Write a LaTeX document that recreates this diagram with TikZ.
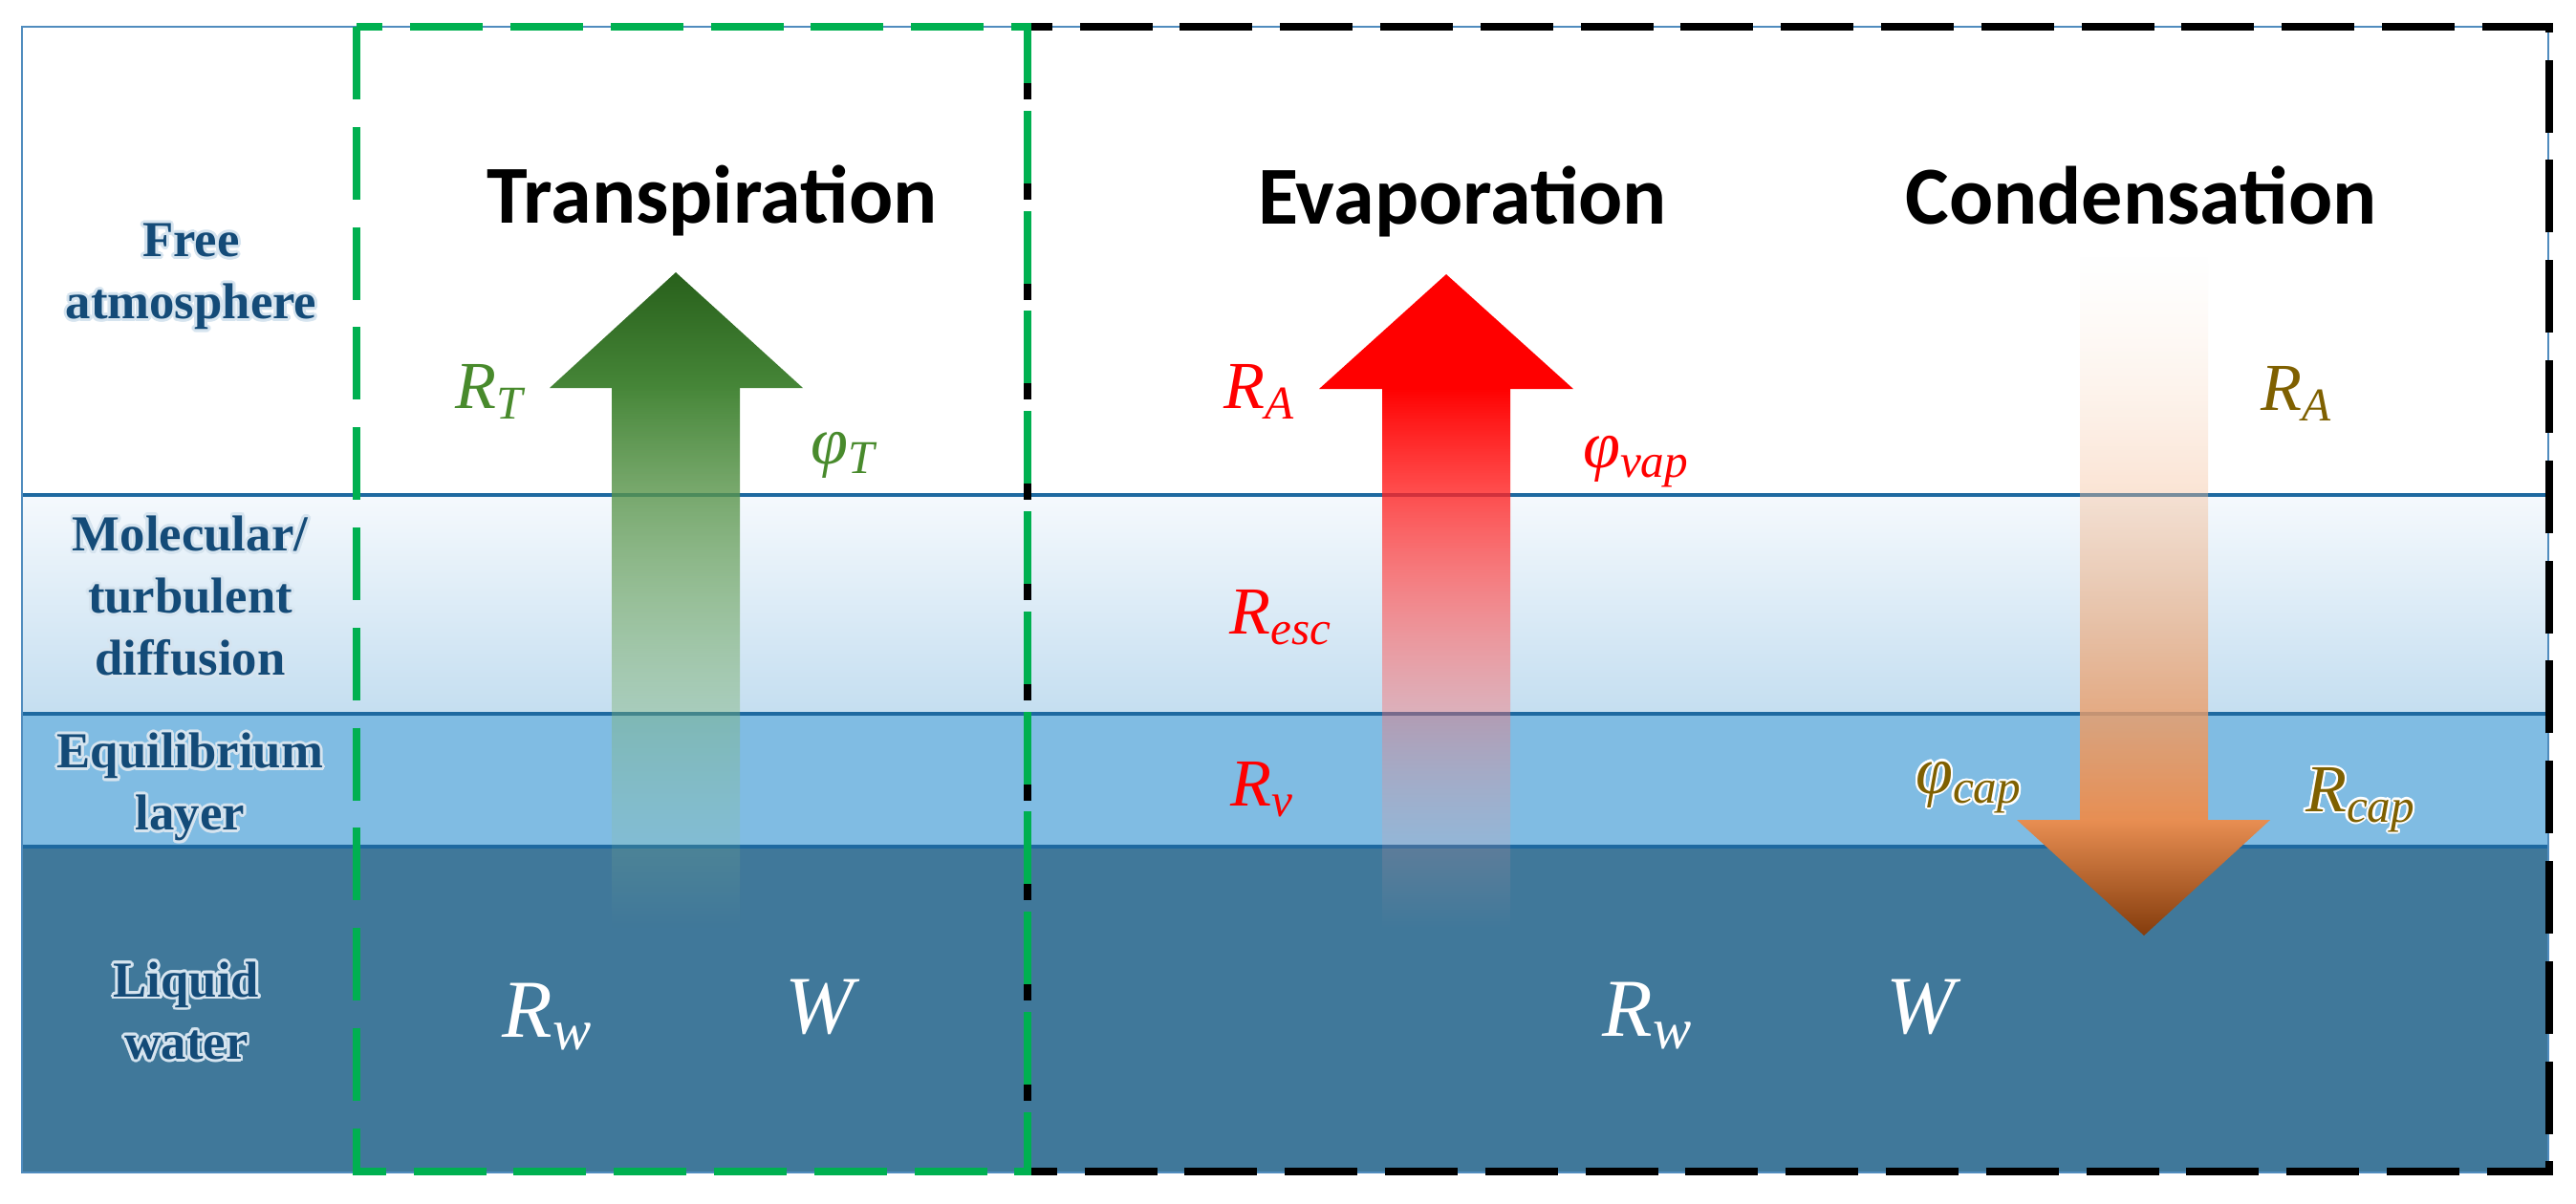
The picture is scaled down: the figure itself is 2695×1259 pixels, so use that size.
\RequirePackage{fix-cm}
\documentclass[tikz,border=0pt]{standalone}
\usepackage{fontspec}
\setmainfont{Liberation Serif}
\newfontfamily\titlefont{Carlito}
\usetikzlibrary{fadings}
\IfFileExists{contour.sty}{\usepackage{contour}\def\hasglow{1}}{}
\ifdefined\hasglow
  \newcommand\glowtext[3]{{\contourlength{#1}\contour{#2}{#3}}}
\else
  \newcommand\glowtext[3]{#3}
\fi
\newcommand\flux[2]{\textit{#1}\textsubscript{\textit{#2}}}
\newcommand\sideglow[1]{\glowtext{0.8pt}{glowblue}{#1}}
\definecolor{labelnavy}{RGB}{20,75,120}
\definecolor{glowblue}{RGB}{214,228,239}
\definecolor{borderblue}{RGB}{80,140,190}
\definecolor{layerline}{RGB}{30,105,160}
\definecolor{moltop}{RGB}{245,249,253}
\definecolor{molbot}{RGB}{196,222,240}
\definecolor{eqfill}{RGB}{128,188,227}
\definecolor{liqfill}{RGB}{64,120,154}
\definecolor{boxgreen}{RGB}{0,176,80}
\definecolor{labgreen}{RGB}{72,138,44}
\definecolor{labred}{RGB}{255,0,0}
\definecolor{labbrown}{RGB}{127,96,0}
\definecolor{ghead1}{RGB}{40,96,27}
\definecolor{ghead2}{RGB}{70,134,56}
\definecolor{gmid}{RGB}{110,164,94}
\definecolor{gbot}{RGB}{160,205,145}
\definecolor{rmid}{RGB}{255,100,100}
\definecolor{rbot}{RGB}{255,180,180}
\definecolor{otop}{RGB}{253,226,204}
\definecolor{omid}{RGB}{251,184,136}
\definecolor{ohead1}{RGB}{232,142,82}
\definecolor{ohead2}{RGB}{132,60,12}
\tikzfading[name=fadelow, top color=transparent!0, middle color=transparent!10, bottom color=transparent!100]
\tikzfading[name=fadehigh, top color=transparent!100, middle color=transparent!0, bottom color=transparent!0]
\begin{document}
\begin{tikzpicture}[x=0.01cm,y=-0.01cm,
  layerlinestyle/.style={draw=layerline, line width=1.2pt},
  boxdash/.style={line width=2.5pt, dash pattern=on 21.6pt off 8.2pt},
  sidelabel/.style={font=\fontsize{15}{18.5}\selectfont\bfseries, text=labelnavy, align=center, inner sep=0pt},
  titlelabel/.style={font=\titlefont\bfseries\fontsize{24.5}{30}\selectfont, text=black, inner sep=0pt, anchor=base},
  fluxlabel/.style={font=\fontsize{20}{24}\selectfont, inner sep=0pt},
  waterlabel/.style={font=\fontsize{24.5}{28}\selectfont, text=white, inner sep=0pt},
]
\useasboundingbox (0,0) rectangle (2695,1259);
\fill[white] (0,0) rectangle (2695,1259);
% layers
\shade[top color=moltop, bottom color=molbot] (23,518) rectangle (2666,747);
\fill[eqfill] (23,747) rectangle (2666,886);
\fill[liqfill] (23,886) rectangle (2666,1227);
\draw[layerlinestyle] (23,518) -- (2666,518);
\draw[layerlinestyle] (23,747) -- (2666,747);
\draw[layerlinestyle] (23,886) -- (2666,886);
\draw[borderblue, line width=0.7pt] (23,28) rectangle (2666,1227);
% transpiration arrow
\shade[top color=ghead2, middle color=gmid, bottom color=gbot, path fading=fadelow] (640,404) rectangle (774,970);
\shade[top color=ghead1, bottom color=ghead2] (575,406) -- (707,285) -- (840,406) -- cycle;
% evaporation arrow
\shade[top color=labred, middle color=rmid, bottom color=rbot, path fading=fadelow] (1446,405) rectangle (1580,972);
\fill[labred] (1380,407) -- (1513,287) -- (1646,407) -- cycle;
% condensation arrow
\shade[top color=otop, middle color=omid, bottom color=ohead1, path fading=fadehigh] (2176,268) rectangle (2310,860);
\shade[top color=ohead1, bottom color=ohead2] (2110,858) -- (2375,858) -- (2243,979) -- cycle;
% dashed boxes
\draw[boxdash, black] (1075,28) rectangle (2667,1226);
\draw[boxdash, boxgreen] (373,28) rectangle (1075,1226);
% side labels
\node[sidelabel] (freeatm) at (200,291) {\sideglow{Free}\\\sideglow{atmosphere}};
\node[sidelabel] (moldiff) at (199,625) {\sideglow{Molecular/}\\\sideglow{turbulent}\\\sideglow{diffusion}};
\node[sidelabel] (eqlayer) at (199,825) {\sideglow{Equilibrium}\\\sideglow{layer}};
\node[sidelabel] (liqwater) at (195,1059) {\sideglow{Liquid}\\\sideglow{water}};
% titles
\node[titlelabel] (ttrans) at (745,233) {Transpiration};
\node[titlelabel] (tevap) at (1530,234) {Evaporation};
\node[titlelabel] (tcond) at (2240,234) {Condensation};
% flux labels
\node[fluxlabel, text=labgreen] (rt) at (514,410) {\flux{R}{T}};
\node[fluxlabel, text=labgreen] (phit) at (884,476) {\flux{φ}{T}};
\node[fluxlabel, text=labred] (ra1) at (1318,410) {\flux{R}{A}};
\node[fluxlabel, text=labred] (phivap) at (1712,483) {\flux{φ}{vap}};
\node[fluxlabel, text=labbrown] (ra2) at (2403,412) {\flux{R}{A}};
\node[fluxlabel, text=labred] (resc) at (1340,646) {\flux{R}{esc}};
\node[fluxlabel, text=labred] (rv) at (1321,826) {\flux{R}{v}};
\node[fluxlabel, text=labbrown] (phicap) at (2060,825) {\glowtext{0.6pt}{white}{\flux{φ}{cap}}};
\node[fluxlabel, text=labbrown] (rcap) at (2470,838) {\glowtext{0.6pt}{white}{\flux{R}{cap}}};
\node[waterlabel] (rw1) at (573,1064) {\flux{R}{w}};
\node[waterlabel] (w1) at (861,1054) {\textit{W}};
\node[waterlabel] (rw2) at (1724,1063) {\flux{R}{w}};
\node[waterlabel] (w2) at (2013,1054) {\textit{W}};
\end{tikzpicture}
\end{document}
